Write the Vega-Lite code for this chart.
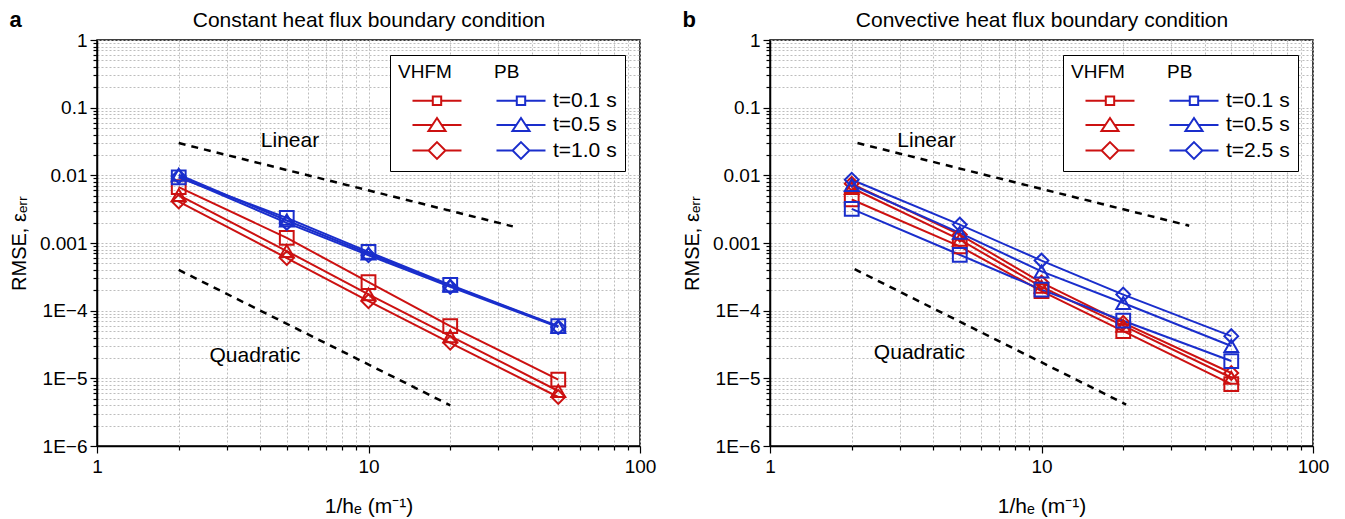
{
  "$schema": "https://vega.github.io/schema/vega-lite/v6.json",
  "padding": {"left": 8, "top": 8, "right": 5, "bottom": 3},
  "spacing": 24,
  "datasets": {
    "a": [
      {"series": "VHFM t=0.1 s", "x": 2, "y": 0.0067}, {"series": "VHFM t=0.1 s", "x": 5, "y": 0.00119}, {"series": "VHFM t=0.1 s", "x": 10, "y": 0.000264}, {"series": "VHFM t=0.1 s", "x": 20, "y": 0.000059}, {"series": "VHFM t=0.1 s", "x": 50, "y": 0.0000096},
      {"series": "VHFM t=0.5 s", "x": 2, "y": 0.0051}, {"series": "VHFM t=0.5 s", "x": 5, "y": 0.00076}, {"series": "VHFM t=0.5 s", "x": 10, "y": 0.000174}, {"series": "VHFM t=0.5 s", "x": 20, "y": 0.000042}, {"series": "VHFM t=0.5 s", "x": 50, "y": 0.0000065},
      {"series": "VHFM t=1.0 s", "x": 2, "y": 0.0041}, {"series": "VHFM t=1.0 s", "x": 5, "y": 0.0006}, {"series": "VHFM t=1.0 s", "x": 10, "y": 0.000138}, {"series": "VHFM t=1.0 s", "x": 20, "y": 0.0000335}, {"series": "VHFM t=1.0 s", "x": 50, "y": 0.0000053},
      {"series": "PB t=0.1 s", "x": 2, "y": 0.0093}, {"series": "PB t=0.1 s", "x": 5, "y": 0.00235}, {"series": "PB t=0.1 s", "x": 10, "y": 0.00074}, {"series": "PB t=0.1 s", "x": 20, "y": 0.00024}, {"series": "PB t=0.1 s", "x": 50, "y": 0.000059},
      {"series": "PB t=0.5 s", "x": 2, "y": 0.0102}, {"series": "PB t=0.5 s", "x": 5, "y": 0.00215}, {"series": "PB t=0.5 s", "x": 10, "y": 0.0007}, {"series": "PB t=0.5 s", "x": 20, "y": 0.000235}, {"series": "PB t=0.5 s", "x": 50, "y": 0.000058},
      {"series": "PB t=1.0 s", "x": 2, "y": 0.0096}, {"series": "PB t=1.0 s", "x": 5, "y": 0.00198}, {"series": "PB t=1.0 s", "x": 10, "y": 0.00066}, {"series": "PB t=1.0 s", "x": 20, "y": 0.000225}, {"series": "PB t=1.0 s", "x": 50, "y": 0.000057}
    ],
    "b": [
      {"series": "VHFM t=0.1 s", "x": 2, "y": 0.0044}, {"series": "VHFM t=0.1 s", "x": 5, "y": 0.00089}, {"series": "VHFM t=0.1 s", "x": 10, "y": 0.000194}, {"series": "VHFM t=0.1 s", "x": 20, "y": 0.00005}, {"series": "VHFM t=0.1 s", "x": 50, "y": 0.0000082},
      {"series": "VHFM t=0.5 s", "x": 2, "y": 0.0065}, {"series": "VHFM t=0.5 s", "x": 5, "y": 0.00112}, {"series": "VHFM t=0.5 s", "x": 10, "y": 0.000225}, {"series": "VHFM t=0.5 s", "x": 20, "y": 0.00006}, {"series": "VHFM t=0.5 s", "x": 50, "y": 0.0000102},
      {"series": "VHFM t=2.5 s", "x": 2, "y": 0.0075}, {"series": "VHFM t=2.5 s", "x": 5, "y": 0.00133}, {"series": "VHFM t=2.5 s", "x": 10, "y": 0.00026}, {"series": "VHFM t=2.5 s", "x": 20, "y": 0.000066}, {"series": "VHFM t=2.5 s", "x": 50, "y": 0.000012},
      {"series": "PB t=0.1 s", "x": 2, "y": 0.0032}, {"series": "PB t=0.1 s", "x": 5, "y": 0.00067}, {"series": "PB t=0.1 s", "x": 10, "y": 0.000205}, {"series": "PB t=0.1 s", "x": 20, "y": 0.000071}, {"series": "PB t=0.1 s", "x": 50, "y": 0.000018},
      {"series": "PB t=0.5 s", "x": 2, "y": 0.0072}, {"series": "PB t=0.5 s", "x": 5, "y": 0.00141}, {"series": "PB t=0.5 s", "x": 10, "y": 0.00038}, {"series": "PB t=0.5 s", "x": 20, "y": 0.00013}, {"series": "PB t=0.5 s", "x": 50, "y": 0.00003},
      {"series": "PB t=2.5 s", "x": 2, "y": 0.0086}, {"series": "PB t=2.5 s", "x": 5, "y": 0.00187}, {"series": "PB t=2.5 s", "x": 10, "y": 0.00055}, {"series": "PB t=2.5 s", "x": 20, "y": 0.000173}, {"series": "PB t=2.5 s", "x": 50, "y": 0.000042}
    ],
    "refa": [
      {"ref": "Linear", "x": 2, "y": 0.03}, {"ref": "Linear", "x": 34, "y": 0.00176},
      {"ref": "Quadratic", "x": 2, "y": 0.0004}, {"ref": "Quadratic", "x": 20, "y": 0.000004}
    ],
    "refb": [
      {"ref": "Linear", "x": 2.1, "y": 0.03}, {"ref": "Linear", "x": 35, "y": 0.0018},
      {"ref": "Quadratic", "x": 2.05, "y": 0.00041}, {"ref": "Quadratic", "x": 20.5, "y": 0.0000041}
    ],
    "laba": [
      {"label": "Linear", "x": 5.14, "y": 0.032}, {"label": "Quadratic", "x": 3.82, "y": 0.0000215}
    ],
    "labb": [
      {"label": "Linear", "x": 3.77, "y": 0.032}, {"label": "Quadratic", "x": 3.55, "y": 0.000024}
    ]
  },
  "hconcat": [
    {
      "title": {"text": "a", "anchor": "start", "frame": "bounds", "fontSize": 22, "fontWeight": "bold", "font": "Liberation Sans", "color": "black", "dy": 27},
      "width": 543, "height": 406,
      "resolve": {"axis": {"x": "independent", "y": "independent"}, "scale": {"color": "independent", "shape": "independent"}},
      "layer": [
        {
          "data": {"name": "a"},
          "mark": {"type": "line", "strokeWidth": 2},
          "encoding": {
            "x": {"field": "x", "type": "quantitative", "scale": {"type": "log", "domain": [1, 100], "nice": false},
              "axis": {"title": "1/hₑ (m⁻¹)", "values": [1,2,3,4,5,6,7,8,9,10,20,30,40,50,60,70,80,90,100],
                "labelExpr": "abs(log(datum.value)/LN10 - round(log(datum.value)/LN10)) < 0.01 ? format(datum.value, 'd') : ''",
                "tickSize": {"condition": {"test": "abs(log(datum.value)/LN10 - round(log(datum.value)/LN10)) < 0.01", "value": 7}, "value": 4},
                "labelPadding": 4, "titlePadding": 19, "titleFontSize": 21}},
            "y": {"field": "y", "type": "quantitative", "scale": {"type": "log", "domain": [0.000001, 1], "nice": false},
              "axis": {"title": "RMSE, εₑᵣᵣ", "values": [0.000001,0.000002,0.000003,0.000004,0.000005,0.000006,0.000007,0.000008,0.000009,0.00001,0.00002,0.00003,0.00004,0.00005,0.00006,0.00007,0.00008,0.00009,0.0001,0.0002,0.0003,0.0004,0.0005,0.0006,0.0007,0.0008,0.0009,0.001,0.002,0.003,0.004,0.005,0.006,0.007,0.008,0.009,0.01,0.02,0.03,0.04,0.05,0.06,0.07,0.08,0.09,0.1,0.2,0.3,0.4,0.5,0.6,0.7,0.8,0.9,1],
                "labelExpr": "abs(log(datum.value)/LN10 - round(log(datum.value)/LN10)) < 0.01 ? ['1E−6','1E−5','1E−4','0.001','0.01','0.1','1'][round(log(datum.value)/LN10)+6] : ''",
                "tickSize": {"condition": {"test": "abs(log(datum.value)/LN10 - round(log(datum.value)/LN10)) < 0.01", "value": 7}, "value": 4},
                "labelPadding": 3, "titlePadding": 10}},
            "color": {"field": "series", "type": "nominal", "legend": null,
              "scale": {"domain": ["VHFM t=0.1 s", "PB t=0.1 s", "VHFM t=0.5 s", "PB t=0.5 s", "VHFM t=1.0 s", "PB t=1.0 s"], "range": ["#cc1111", "#1a2ecc", "#cc1111", "#1a2ecc", "#cc1111", "#1a2ecc"]}}
          }
        },
        {
          "data": {"name": "a"},
          "mark": {"type": "point", "filled": false, "size": 190, "strokeWidth": 2, "opacity": 1},
          "encoding": {
            "x": {"field": "x", "type": "quantitative", "axis": null},
            "y": {"field": "y", "type": "quantitative", "axis": null},
            "color": {"field": "series", "type": "nominal", "legend": null,
              "scale": {"domain": ["VHFM t=0.1 s", "PB t=0.1 s", "VHFM t=0.5 s", "PB t=0.5 s", "VHFM t=1.0 s", "PB t=1.0 s"], "range": ["#cc1111", "#1a2ecc", "#cc1111", "#1a2ecc", "#cc1111", "#1a2ecc"]}},
            "shape": {"field": "series", "type": "nominal", "legend": null,
              "scale": {"domain": ["VHFM t=0.1 s", "PB t=0.1 s", "VHFM t=0.5 s", "PB t=0.5 s", "VHFM t=1.0 s", "PB t=1.0 s"], "range": ["square", "square", "triangle-up", "triangle-up", "diamond", "diamond"]}}
          }
        },
        {
          "data": {"name": "refa"},
          "mark": {"type": "line", "color": "black", "strokeWidth": 2.5, "strokeDash": [7, 6]},
          "encoding": {
            "x": {"field": "x", "type": "quantitative", "axis": {"orient": "top", "title": "Constant heat flux boundary condition", "labels": false, "ticks": false, "domain": false, "grid": false, "titleFontSize": 21, "titlePadding": 10}},
            "y": {"field": "y", "type": "quantitative", "axis": null},
            "detail": {"field": "ref"}
          }
        },
        {
          "data": {"name": "laba"},
          "mark": {"type": "text", "fontSize": 21, "color": "black"},
          "encoding": {
            "x": {"field": "x", "type": "quantitative", "axis": null},
            "y": {"field": "y", "type": "quantitative", "axis": null},
            "text": {"field": "label"}
          }
        },
        {
          "data": {"name": "a"},
          "mark": {"type": "point", "filled": false, "opacity": 0, "strokeWidth": 2},
          "encoding": {
            "x": {"field": "x", "type": "quantitative", "axis": null},
            "y": {"field": "y", "type": "quantitative", "axis": null},
            "color": {"field": "series", "type": "nominal",
              "scale": {"domain": ["VHFM t=0.1 s", "VHFM t=0.5 s", "VHFM t=1.0 s", "PB t=0.1 s", "PB t=0.5 s", "PB t=1.0 s"], "range": ["#cc1111", "#cc1111", "#cc1111", "#1a2ecc", "#1a2ecc", "#1a2ecc"]},
              "legend": {"title": "VHFM\u00a0\u00a0\u00a0\u00a0\u00a0\u00a0\u00a0\u00a0PB", "orient": "top-right", "offset": 15, "columns": 2, "symbolSize": 196, "symbolStrokeWidth": 2, "symbolOpacity": 1,
                "labelExpr": "indexof(datum.label, 'VHFM') >= 0 ? '' : replace(datum.label, 'PB ', '')",
                "labelFontSize": 21, "labelOffset": 50, "titleFontSize": 19, "titleFontWeight": "normal", "titlePadding": 8,
                "columnPadding": 13, "rowPadding": 2.5, "padding": 8, "strokeColor": "black", "fillColor": "white", "labelColor": "black", "titleColor": "black"}},
            "shape": {"field": "series", "type": "nominal",
              "scale": {"domain": ["VHFM t=0.1 s", "VHFM t=0.5 s", "VHFM t=1.0 s", "PB t=0.1 s", "PB t=0.5 s", "PB t=1.0 s"],
                "range": ["M0.57,0H3.47M4.67,0H7.57M3.47,-0.6H4.67V0.6H3.47Z", "M0.57,0H3.41M4.73,0H7.57M4.07,-1L5.29,0.85H2.85Z", "M0.57,0H2.87M5.27,0H7.57M4.07,-1.2L5.27,0L4.07,1.2L2.87,0Z", "M0.57,0H3.47M4.67,0H7.57M3.47,-0.6H4.67V0.6H3.47Z", "M0.57,0H3.41M4.73,0H7.57M4.07,-1L5.29,0.85H2.85Z", "M0.57,0H2.87M5.27,0H7.57M4.07,-1.2L5.27,0L4.07,1.2L2.87,0Z"]}}
          }
        }
      ]
    },
    {
      "title": {"text": "b", "anchor": "start", "frame": "bounds", "fontSize": 22, "fontWeight": "bold", "font": "Liberation Sans", "color": "black", "dy": 27},
      "width": 543, "height": 406,
      "resolve": {"axis": {"x": "independent", "y": "independent"}, "scale": {"color": "independent", "shape": "independent"}},
      "layer": [
        {
          "data": {"name": "b"},
          "mark": {"type": "line", "strokeWidth": 2},
          "encoding": {
            "x": {"field": "x", "type": "quantitative", "scale": {"type": "log", "domain": [1, 100], "nice": false},
              "axis": {"title": "1/hₑ (m⁻¹)", "values": [1,2,3,4,5,6,7,8,9,10,20,30,40,50,60,70,80,90,100],
                "labelExpr": "abs(log(datum.value)/LN10 - round(log(datum.value)/LN10)) < 0.01 ? format(datum.value, 'd') : ''",
                "tickSize": {"condition": {"test": "abs(log(datum.value)/LN10 - round(log(datum.value)/LN10)) < 0.01", "value": 7}, "value": 4},
                "labelPadding": 4, "titlePadding": 19, "titleFontSize": 21}},
            "y": {"field": "y", "type": "quantitative", "scale": {"type": "log", "domain": [0.000001, 1], "nice": false},
              "axis": {"title": "RMSE, εₑᵣᵣ", "values": [0.000001,0.000002,0.000003,0.000004,0.000005,0.000006,0.000007,0.000008,0.000009,0.00001,0.00002,0.00003,0.00004,0.00005,0.00006,0.00007,0.00008,0.00009,0.0001,0.0002,0.0003,0.0004,0.0005,0.0006,0.0007,0.0008,0.0009,0.001,0.002,0.003,0.004,0.005,0.006,0.007,0.008,0.009,0.01,0.02,0.03,0.04,0.05,0.06,0.07,0.08,0.09,0.1,0.2,0.3,0.4,0.5,0.6,0.7,0.8,0.9,1],
                "labelExpr": "abs(log(datum.value)/LN10 - round(log(datum.value)/LN10)) < 0.01 ? ['1E−6','1E−5','1E−4','0.001','0.01','0.1','1'][round(log(datum.value)/LN10)+6] : ''",
                "tickSize": {"condition": {"test": "abs(log(datum.value)/LN10 - round(log(datum.value)/LN10)) < 0.01", "value": 7}, "value": 4},
                "labelPadding": 3, "titlePadding": 10}},
            "color": {"field": "series", "type": "nominal", "legend": null,
              "scale": {"domain": ["VHFM t=0.1 s", "PB t=0.1 s", "VHFM t=0.5 s", "PB t=0.5 s", "VHFM t=2.5 s", "PB t=2.5 s"], "range": ["#cc1111", "#1a2ecc", "#cc1111", "#1a2ecc", "#cc1111", "#1a2ecc"]}}
          }
        },
        {
          "data": {"name": "b"},
          "mark": {"type": "point", "filled": false, "size": 190, "strokeWidth": 2, "opacity": 1},
          "encoding": {
            "x": {"field": "x", "type": "quantitative", "axis": null},
            "y": {"field": "y", "type": "quantitative", "axis": null},
            "color": {"field": "series", "type": "nominal", "legend": null,
              "scale": {"domain": ["VHFM t=0.1 s", "PB t=0.1 s", "VHFM t=0.5 s", "PB t=0.5 s", "VHFM t=2.5 s", "PB t=2.5 s"], "range": ["#cc1111", "#1a2ecc", "#cc1111", "#1a2ecc", "#cc1111", "#1a2ecc"]}},
            "shape": {"field": "series", "type": "nominal", "legend": null,
              "scale": {"domain": ["VHFM t=0.1 s", "PB t=0.1 s", "VHFM t=0.5 s", "PB t=0.5 s", "VHFM t=2.5 s", "PB t=2.5 s"], "range": ["square", "square", "triangle-up", "triangle-up", "diamond", "diamond"]}}
          }
        },
        {
          "data": {"name": "refb"},
          "mark": {"type": "line", "color": "black", "strokeWidth": 2.5, "strokeDash": [7, 6]},
          "encoding": {
            "x": {"field": "x", "type": "quantitative", "axis": {"orient": "top", "title": "Convective heat flux boundary condition", "labels": false, "ticks": false, "domain": false, "grid": false, "titleFontSize": 21, "titlePadding": 10}},
            "y": {"field": "y", "type": "quantitative", "axis": null},
            "detail": {"field": "ref"}
          }
        },
        {
          "data": {"name": "labb"},
          "mark": {"type": "text", "fontSize": 21, "color": "black"},
          "encoding": {
            "x": {"field": "x", "type": "quantitative", "axis": null},
            "y": {"field": "y", "type": "quantitative", "axis": null},
            "text": {"field": "label"}
          }
        },
        {
          "data": {"name": "b"},
          "mark": {"type": "point", "filled": false, "opacity": 0, "strokeWidth": 2},
          "encoding": {
            "x": {"field": "x", "type": "quantitative", "axis": null},
            "y": {"field": "y", "type": "quantitative", "axis": null},
            "color": {"field": "series", "type": "nominal",
              "scale": {"domain": ["VHFM t=0.1 s", "VHFM t=0.5 s", "VHFM t=2.5 s", "PB t=0.1 s", "PB t=0.5 s", "PB t=2.5 s"], "range": ["#cc1111", "#cc1111", "#cc1111", "#1a2ecc", "#1a2ecc", "#1a2ecc"]},
              "legend": {"title": "VHFM\u00a0\u00a0\u00a0\u00a0\u00a0\u00a0\u00a0\u00a0PB", "orient": "top-right", "offset": 15, "columns": 2, "symbolSize": 196, "symbolStrokeWidth": 2, "symbolOpacity": 1,
                "labelExpr": "indexof(datum.label, 'VHFM') >= 0 ? '' : replace(datum.label, 'PB ', '')",
                "labelFontSize": 21, "labelOffset": 50, "titleFontSize": 19, "titleFontWeight": "normal", "titlePadding": 8,
                "columnPadding": 13, "rowPadding": 2.5, "padding": 8, "strokeColor": "black", "fillColor": "white", "labelColor": "black", "titleColor": "black"}},
            "shape": {"field": "series", "type": "nominal",
              "scale": {"domain": ["VHFM t=0.1 s", "VHFM t=0.5 s", "VHFM t=2.5 s", "PB t=0.1 s", "PB t=0.5 s", "PB t=2.5 s"],
                "range": ["M0.57,0H3.47M4.67,0H7.57M3.47,-0.6H4.67V0.6H3.47Z", "M0.57,0H3.41M4.73,0H7.57M4.07,-1L5.29,0.85H2.85Z", "M0.57,0H2.87M5.27,0H7.57M4.07,-1.2L5.27,0L4.07,1.2L2.87,0Z", "M0.57,0H3.47M4.67,0H7.57M3.47,-0.6H4.67V0.6H3.47Z", "M0.57,0H3.41M4.73,0H7.57M4.07,-1L5.29,0.85H2.85Z", "M0.57,0H2.87M5.27,0H7.57M4.07,-1.2L5.27,0L4.07,1.2L2.87,0Z"]}}
          }
        }
      ]
    }
  ],
  "config": {
    "font": "Liberation Sans",
    "view": {"stroke": "black", "strokeWidth": 1.5},
    "axis": {"labelFontSize": 19, "titleFontSize": 20, "titleFontWeight": "normal", "labelColor": "black", "titleColor": "black",
      "domainColor": "black", "domainWidth": 1.5, "tickColor": "black", "tickWidth": 1.2, "gridColor": "#bdbdbd", "gridDash": [2, 2], "gridWidth": 1,
      "labelFlush": false, "labelOverlap": false, "labelFont": "Liberation Sans", "titleFont": "Liberation Sans"},
    "legend": {"labelFont": "Liberation Sans", "titleFont": "Liberation Sans"}
  }
}
